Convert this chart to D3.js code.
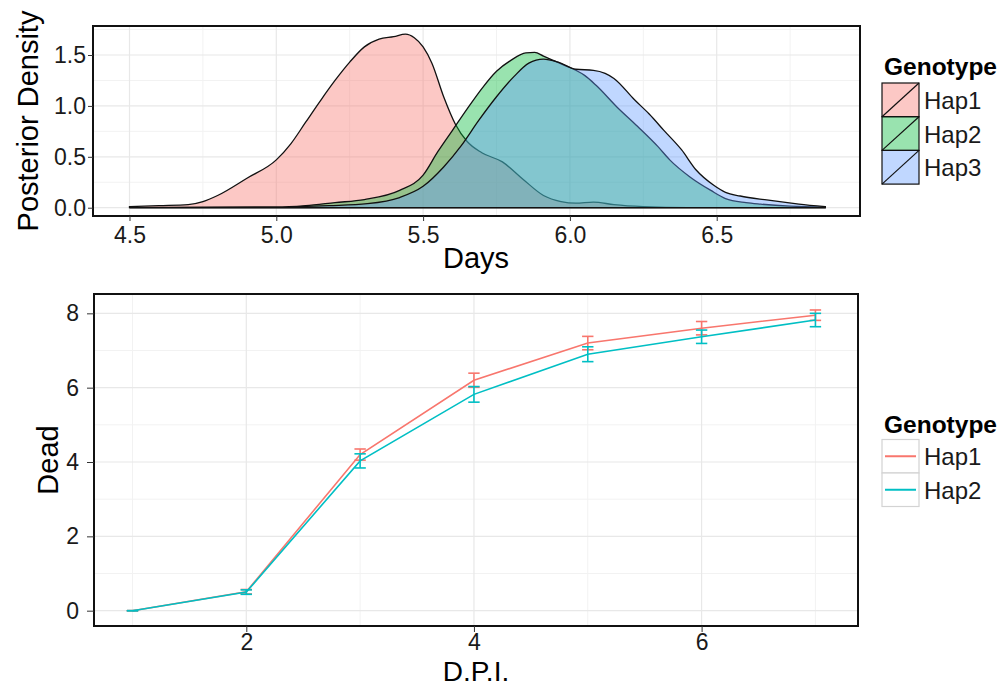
<!DOCTYPE html>
<html>
<head>
<meta charset="utf-8">
<script src="https://cdn.jsdelivr.net/npm/d3@7"></script>
<style>
  body { margin: 0; background: #fff; }
  svg { font-family: "Liberation Sans", Arial, Helvetica, sans-serif; }
  .tick text { fill: #1a1a1a; }
  .tick line { stroke: #333; }
  .domain { display: none; }
</style>
</head>
<body>
<svg width="1008" height="688"></svg>
<script>

// top panel: posterior densities
var genotypes = ["Hap1", "Hap2", "Hap3"];
var densityColors = ["#F8766D", "#00BA38", "#619CFF"];

var hap1Days = [4.50, 4.60, 4.70, 4.75, 4.80, 4.90, 5.00, 5.05, 5.10, 5.15, 5.20, 5.25, 5.30, 5.35, 5.40, 5.44, 5.47, 5.50, 5.53, 5.57, 5.61, 5.65, 5.70, 5.77, 5.84, 5.91, 5.97, 6.02, 6.08, 6.15, 6.25, 6.40, 6.87];
var hap1Density = [0.01, 0.02, 0.03, 0.06, 0.12, 0.29, 0.47, 0.63, 0.84, 1.05, 1.25, 1.43, 1.58, 1.655, 1.68, 1.705, 1.67, 1.58, 1.42, 1.09, 0.82, 0.65, 0.54, 0.45, 0.28, 0.12, 0.06, 0.045, 0.055, 0.03, 0.01, 0.0, 0.0];

var hap2Days = [4.50, 5.00, 5.10, 5.20, 5.30, 5.42, 5.50, 5.55, 5.60, 5.65, 5.70, 5.75, 5.80, 5.85, 5.88, 5.91, 5.98, 6.02, 6.05, 6.09, 6.16, 6.23, 6.30, 6.34, 6.41, 6.48, 6.53, 6.60, 6.65, 6.75, 6.87];
var hap2Density = [0.0, 0.005, 0.02, 0.05, 0.08, 0.17, 0.32, 0.55, 0.76, 0.97, 1.17, 1.34, 1.45, 1.52, 1.525, 1.49, 1.40, 1.35, 1.30, 1.20, 0.99, 0.80, 0.60, 0.47, 0.30, 0.17, 0.09, 0.05, 0.035, 0.015, 0.005];

var hap3Days = [4.50, 5.00, 5.18, 5.31, 5.42, 5.50, 5.57, 5.63, 5.69, 5.75, 5.81, 5.86, 5.91, 5.96, 6.02, 6.08, 6.12, 6.15, 6.22, 6.27, 6.32, 6.38, 6.43, 6.49, 6.53, 6.58, 6.67, 6.78, 6.87];
var hap3Density = [0.0, 0.005, 0.02, 0.04, 0.10, 0.21, 0.40, 0.61, 0.86, 1.09, 1.29, 1.42, 1.46, 1.43, 1.36, 1.35, 1.32, 1.27, 1.06, 0.92, 0.76, 0.57, 0.37, 0.22, 0.15, 0.115, 0.076, 0.036, 0.01];

var densityXTicks = [4.5, 5.0, 5.5, 6.0, 6.5];
var densityXMinor = [4.75, 5.25, 5.75, 6.25, 6.75];
var densityYTicks = [0, 0.5, 1.0, 1.5];
var densityYMinor = [0.25, 0.75, 1.25, 1.75];

// bottom panel: dead counts per day post infection
var lineGenotypes = ["Hap1", "Hap2"];
var lineColors = ["#F8766D", "#00BFC4"];
var dpi = [1, 2, 3, 4, 5, 6, 7];
var hap1Dead = [0, 0.51, 4.20, 6.20, 7.20, 7.60, 7.95];
var hap1Se   = [0, 0.06, 0.15, 0.19, 0.18, 0.18, 0.14];
var hap2Dead = [0, 0.50, 4.03, 5.82, 6.90, 7.37, 7.82];
var hap2Se   = [0, 0.06, 0.19, 0.21, 0.20, 0.18, 0.18];

var deadXTicks = [2, 4, 6];
var deadXMinor = [1, 3, 5, 7];
var deadYTicks = [0, 2, 4, 6, 8];
var deadYMinor = [1, 3, 5, 7];

var svg = d3.select("svg");

function grid(g, x, y, xMajor, xMinor, yMajor, yMinor) {
    var x0 = x.range()[0], x1 = x.range()[1],
        y0 = y.range()[0], y1 = y.range()[1];
    g.selectAll(null).data(xMinor).enter().append("line")
        .attr("x1", d => x(d)).attr("x2", d => x(d))
        .attr("y1", y0).attr("y2", y1)
        .attr("stroke", "#f2f2f2").attr("stroke-width", 1);
    g.selectAll(null).data(yMinor).enter().append("line")
        .attr("x1", x0).attr("x2", x1)
        .attr("y1", d => y(d)).attr("y2", d => y(d))
        .attr("stroke", "#f2f2f2").attr("stroke-width", 1);
    g.selectAll(null).data(xMajor).enter().append("line")
        .attr("x1", d => x(d)).attr("x2", d => x(d))
        .attr("y1", y0).attr("y2", y1)
        .attr("stroke", "#e8e8e8").attr("stroke-width", 1.2);
    g.selectAll(null).data(yMajor).enter().append("line")
        .attr("x1", x0).attr("x2", x1)
        .attr("y1", d => y(d)).attr("y2", d => y(d))
        .attr("stroke", "#e8e8e8").attr("stroke-width", 1.2);
}

function frame(g, x, y) {
    g.append("rect")
        .attr("x", x.range()[0]).attr("y", y.range()[1])
        .attr("width", x.range()[1] - x.range()[0])
        .attr("height", y.range()[0] - y.range()[1])
        .attr("fill", "none").attr("stroke", "#111").attr("stroke-width", 2);
}

// ---------- top panel ----------
var xd = d3.scaleLinear().domain([4.3757, 6.988]).range([93, 860]);
var yd = d3.scaleLinear().domain([-0.0815, 1.785]).range([216, 26]);

var topPanel = svg.append("g");
grid(topPanel, xd, yd, densityXTicks, densityXMinor, densityYTicks, densityYMinor);

var densities = [
    d3.zip(hap1Days, hap1Density),
    d3.zip(hap2Days, hap2Density),
    d3.zip(hap3Days, hap3Density)
];

var area = d3.area()
    .curve(d3.curveMonotoneX)
    .x(d => xd(d[0]))
    .y0(yd(0))
    .y1(d => yd(d[1]));

topPanel.selectAll("path.density")
    .data(densities)
  .enter().append("path")
    .attr("class", "density")
    .attr("d", d => area(d) + "Z")
    .attr("fill", (d, i) => densityColors[i])
    .attr("fill-opacity", 0.4)
    .attr("stroke", "#111")
    .attr("stroke-width", 1.3);

frame(topPanel, xd, yd);

topPanel.append("g")
    .attr("transform", "translate(0,216)")
    .call(d3.axisBottom(xd).tickValues(densityXTicks).tickSize(5).tickPadding(6).tickFormat(d3.format(".1f")))
    .call(g => g.selectAll("text").attr("font-size", 23).attr("font-family", null));

topPanel.append("g")
    .attr("transform", "translate(93,0)")
    .call(d3.axisLeft(yd).tickValues(densityYTicks).tickSize(5).tickPadding(2).tickFormat(d3.format(".1f")))
    .call(g => g.selectAll("text").attr("font-size", 23).attr("font-family", null));

topPanel.append("text")
    .attr("x", 476).attr("y", 268)
    .attr("text-anchor", "middle").attr("font-size", 29)
    .text("Days");

topPanel.append("text")
    .attr("transform", "translate(38,121) rotate(-90)")
    .attr("text-anchor", "middle").attr("font-size", 29)
    .text("Posterior Density");

// legend (fill keys)
var leg1 = topPanel.append("g");
leg1.append("text")
    .attr("x", 884).attr("y", 75)
    .attr("font-size", 24.5).attr("font-weight", "bold")
    .text("Genotype");
var keyH = 33.7;
var keys1 = leg1.selectAll("g.key").data(genotypes).enter().append("g")
    .attr("transform", (d, i) => "translate(882," + (83 + i * keyH) + ")");
keys1.append("rect")
    .attr("width", 37).attr("height", keyH)
    .attr("fill", (d, i) => densityColors[i]).attr("fill-opacity", 0.4)
    .attr("stroke", "#111").attr("stroke-width", 1.2);
keys1.append("line")
    .attr("x1", 0).attr("y1", keyH).attr("x2", 37).attr("y2", 0)
    .attr("stroke", "#111").attr("stroke-width", 1.2);
keys1.append("text")
    .attr("x", 42).attr("y", keyH / 2 + 9)
    .attr("font-size", 24).attr("fill", "#1a1a1a")
    .text(d => d);

// ---------- bottom panel ----------
var xb = d3.scaleLinear().domain([0.662, 7.374]).range([94, 858]);
var yb = d3.scaleLinear().domain([-0.412, 8.52]).range([626, 294]);

var bottomPanel = svg.append("g");
grid(bottomPanel, xb, yb, deadXTicks, deadXMinor, deadYTicks, deadYMinor);

var series = [
    dpi.map((d, i) => ({x: d, y: hap1Dead[i], se: hap1Se[i]})),
    dpi.map((d, i) => ({x: d, y: hap2Dead[i], se: hap2Se[i]}))
];

var line = d3.line()
    .x(d => xb(d.x))
    .y(d => yb(d.y));

var capW = 0.05;
series.forEach(function(s, i) {
    var g = bottomPanel.append("g")
        .attr("stroke", lineColors[i]).attr("fill", "none").attr("stroke-width", 1.6);
    g.append("path").attr("d", line(s));
    var bars = g.selectAll("g.err").data(s).enter().append("g");
    bars.append("line")
        .attr("x1", d => xb(d.x)).attr("x2", d => xb(d.x))
        .attr("y1", d => yb(d.y - d.se)).attr("y2", d => yb(d.y + d.se));
    bars.append("line")
        .attr("x1", d => xb(d.x - capW)).attr("x2", d => xb(d.x + capW))
        .attr("y1", d => yb(d.y - d.se)).attr("y2", d => yb(d.y - d.se));
    bars.append("line")
        .attr("x1", d => xb(d.x - capW)).attr("x2", d => xb(d.x + capW))
        .attr("y1", d => yb(d.y + d.se)).attr("y2", d => yb(d.y + d.se));
});

frame(bottomPanel, xb, yb);

bottomPanel.append("g")
    .attr("transform", "translate(0,626)")
    .call(d3.axisBottom(xb).tickValues(deadXTicks).tickSize(6).tickPadding(2).tickFormat(d3.format("d")))
    .call(g => g.selectAll("text").attr("font-size", 23).attr("font-family", null));

bottomPanel.append("g")
    .attr("transform", "translate(94,0)")
    .call(d3.axisLeft(yb).tickValues(deadYTicks).tickSize(7).tickPadding(8).tickFormat(d3.format("d")))
    .call(g => g.selectAll("text").attr("font-size", 23).attr("font-family", null));

bottomPanel.append("text")
    .attr("x", 476).attr("y", 681)
    .attr("text-anchor", "middle").attr("font-size", 28)
    .text("D.P.I.");

bottomPanel.append("text")
    .attr("transform", "translate(58,460) rotate(-90)")
    .attr("text-anchor", "middle").attr("font-size", 29)
    .text("Dead");

// legend (line keys)
var leg2 = bottomPanel.append("g");
leg2.append("text")
    .attr("x", 884).attr("y", 433)
    .attr("font-size", 24.5).attr("font-weight", "bold")
    .text("Genotype");
var keyH2 = 33.5;
var keys2 = leg2.selectAll("g.key").data(lineGenotypes).enter().append("g")
    .attr("transform", (d, i) => "translate(882," + (439.5 + i * keyH2) + ")");
keys2.append("rect")
    .attr("width", 37).attr("height", keyH2)
    .attr("fill", "#fff").attr("stroke", "#d3d3d3").attr("stroke-width", 1.2);
keys2.append("line")
    .attr("x1", 3).attr("x2", 34).attr("y1", keyH2 / 2).attr("y2", keyH2 / 2)
    .attr("stroke", (d, i) => lineColors[i]).attr("stroke-width", 2);
keys2.append("text")
    .attr("x", 42).attr("y", keyH2 / 2 + 9)
    .attr("font-size", 24).attr("fill", "#1a1a1a")
    .text(d => d);

</script>
</body>
</html>
